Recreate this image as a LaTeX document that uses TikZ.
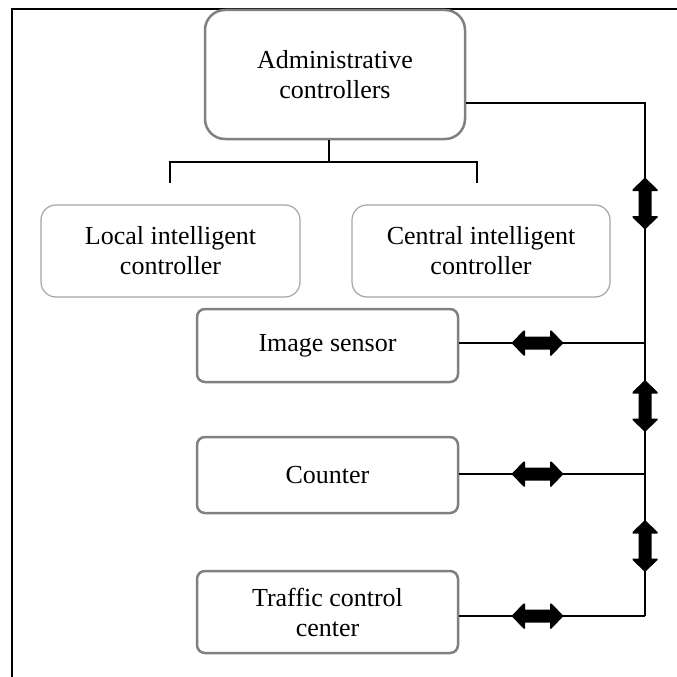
\documentclass[tikz,border=0pt]{standalone}
\usepackage{fontspec}
\setmainfont{Liberation Serif}
\definecolor{boxgray}{RGB}{128,128,128}
\definecolor{softgray}{RGB}{165,165,165}
\begin{document}
\begin{tikzpicture}[x=1pt,y=-1pt,
  lbl/.style={font=\fontsize{26}{30}\selectfont, align=center, inner sep=0pt},
  mainbox/.style={lbl, draw=boxgray, line width=2.5pt, rounded corners=8pt},
  topbox/.style={mainbox, rounded corners=20pt},
  ctrlbox/.style={lbl, draw=softgray, line width=1.2pt, rounded corners=15pt},
  wire/.style={draw=black, line width=1.2pt},
  dblarrow/.pic={
    \fill[black] (-26,0) -- (-14,-12.5) -- (-12.5,-12.5) -- (-12.5,-6.5)
      -- (12.5,-6.5) -- (12.5,-12.5) -- (14,-12.5) -- (26,0)
      -- (14,12.5) -- (12.5,12.5) -- (12.5,6.5) -- (-12.5,6.5)
      -- (-12.5,12.5) -- (-14,12.5) -- cycle;
  }]
\useasboundingbox (0,0) rectangle (677,677);

% open frame: top and left edges
\coordinate (frameTR) at (677,9);
\coordinate (frameTL) at (12,9);
\coordinate (frameBL) at (12,677);
\draw[line width=2pt] (frameTR) -- (frameTL) -- (frameBL);

% boxes
\node[topbox, minimum width=260pt, minimum height=129pt] (admin) at (335,74.5)
  {Administrative\\controllers};
\node[ctrlbox, minimum width=259pt, minimum height=92pt] (local) at (170.5,251)
  {Local intelligent\\controller};
\node[ctrlbox, minimum width=258pt, minimum height=92pt] (central) at (481,251)
  {Central intelligent\\controller};
\node[mainbox, minimum width=261pt, minimum height=73pt] (img) at (327.5,345.5)
  {Image sensor};
\node[mainbox, minimum width=261pt, minimum height=76pt] (counter) at (327.5,475)
  {Counter};
\node[mainbox, minimum width=261pt, minimum height=82pt] (traffic) at (327.5,612)
  {Traffic control\\center};

% tree under the administrative controllers
\coordinate (fork) at (329,162);
\coordinate (forkL) at (170,162);
\coordinate (forkR) at (477,162);
\coordinate (legL) at (170,183);
\coordinate (legR) at (477,183);
\draw[wire] (admin.south -| fork) -- (fork);
\draw[wire] (legL) -- (forkL) -- (forkR) -- (legR);

% bus on the right
\coordinate (busTop) at (645,103);
\coordinate (busImg) at (645,343);
\coordinate (busCnt) at (645,474);
\coordinate (busTfc) at (645,616);
\draw[wire] (admin.east |- busTop) -- (busTop) -- (busTfc);
\draw[wire] (img.east |- busImg) -- (busImg);
\draw[wire] (counter.east |- busCnt) -- (busCnt);
\draw[wire] (traffic.east |- busTfc) -- (busTfc);

% two-way arrows
\pic at (537.5,343) {dblarrow};
\pic at (537.5,474) {dblarrow};
\pic at (537.5,616) {dblarrow};
\pic[rotate=90] at (645,203.5) {dblarrow};
\pic[rotate=90] at (645,406) {dblarrow};
\pic[rotate=90] at (645,546) {dblarrow};
\end{tikzpicture}
\end{document}
